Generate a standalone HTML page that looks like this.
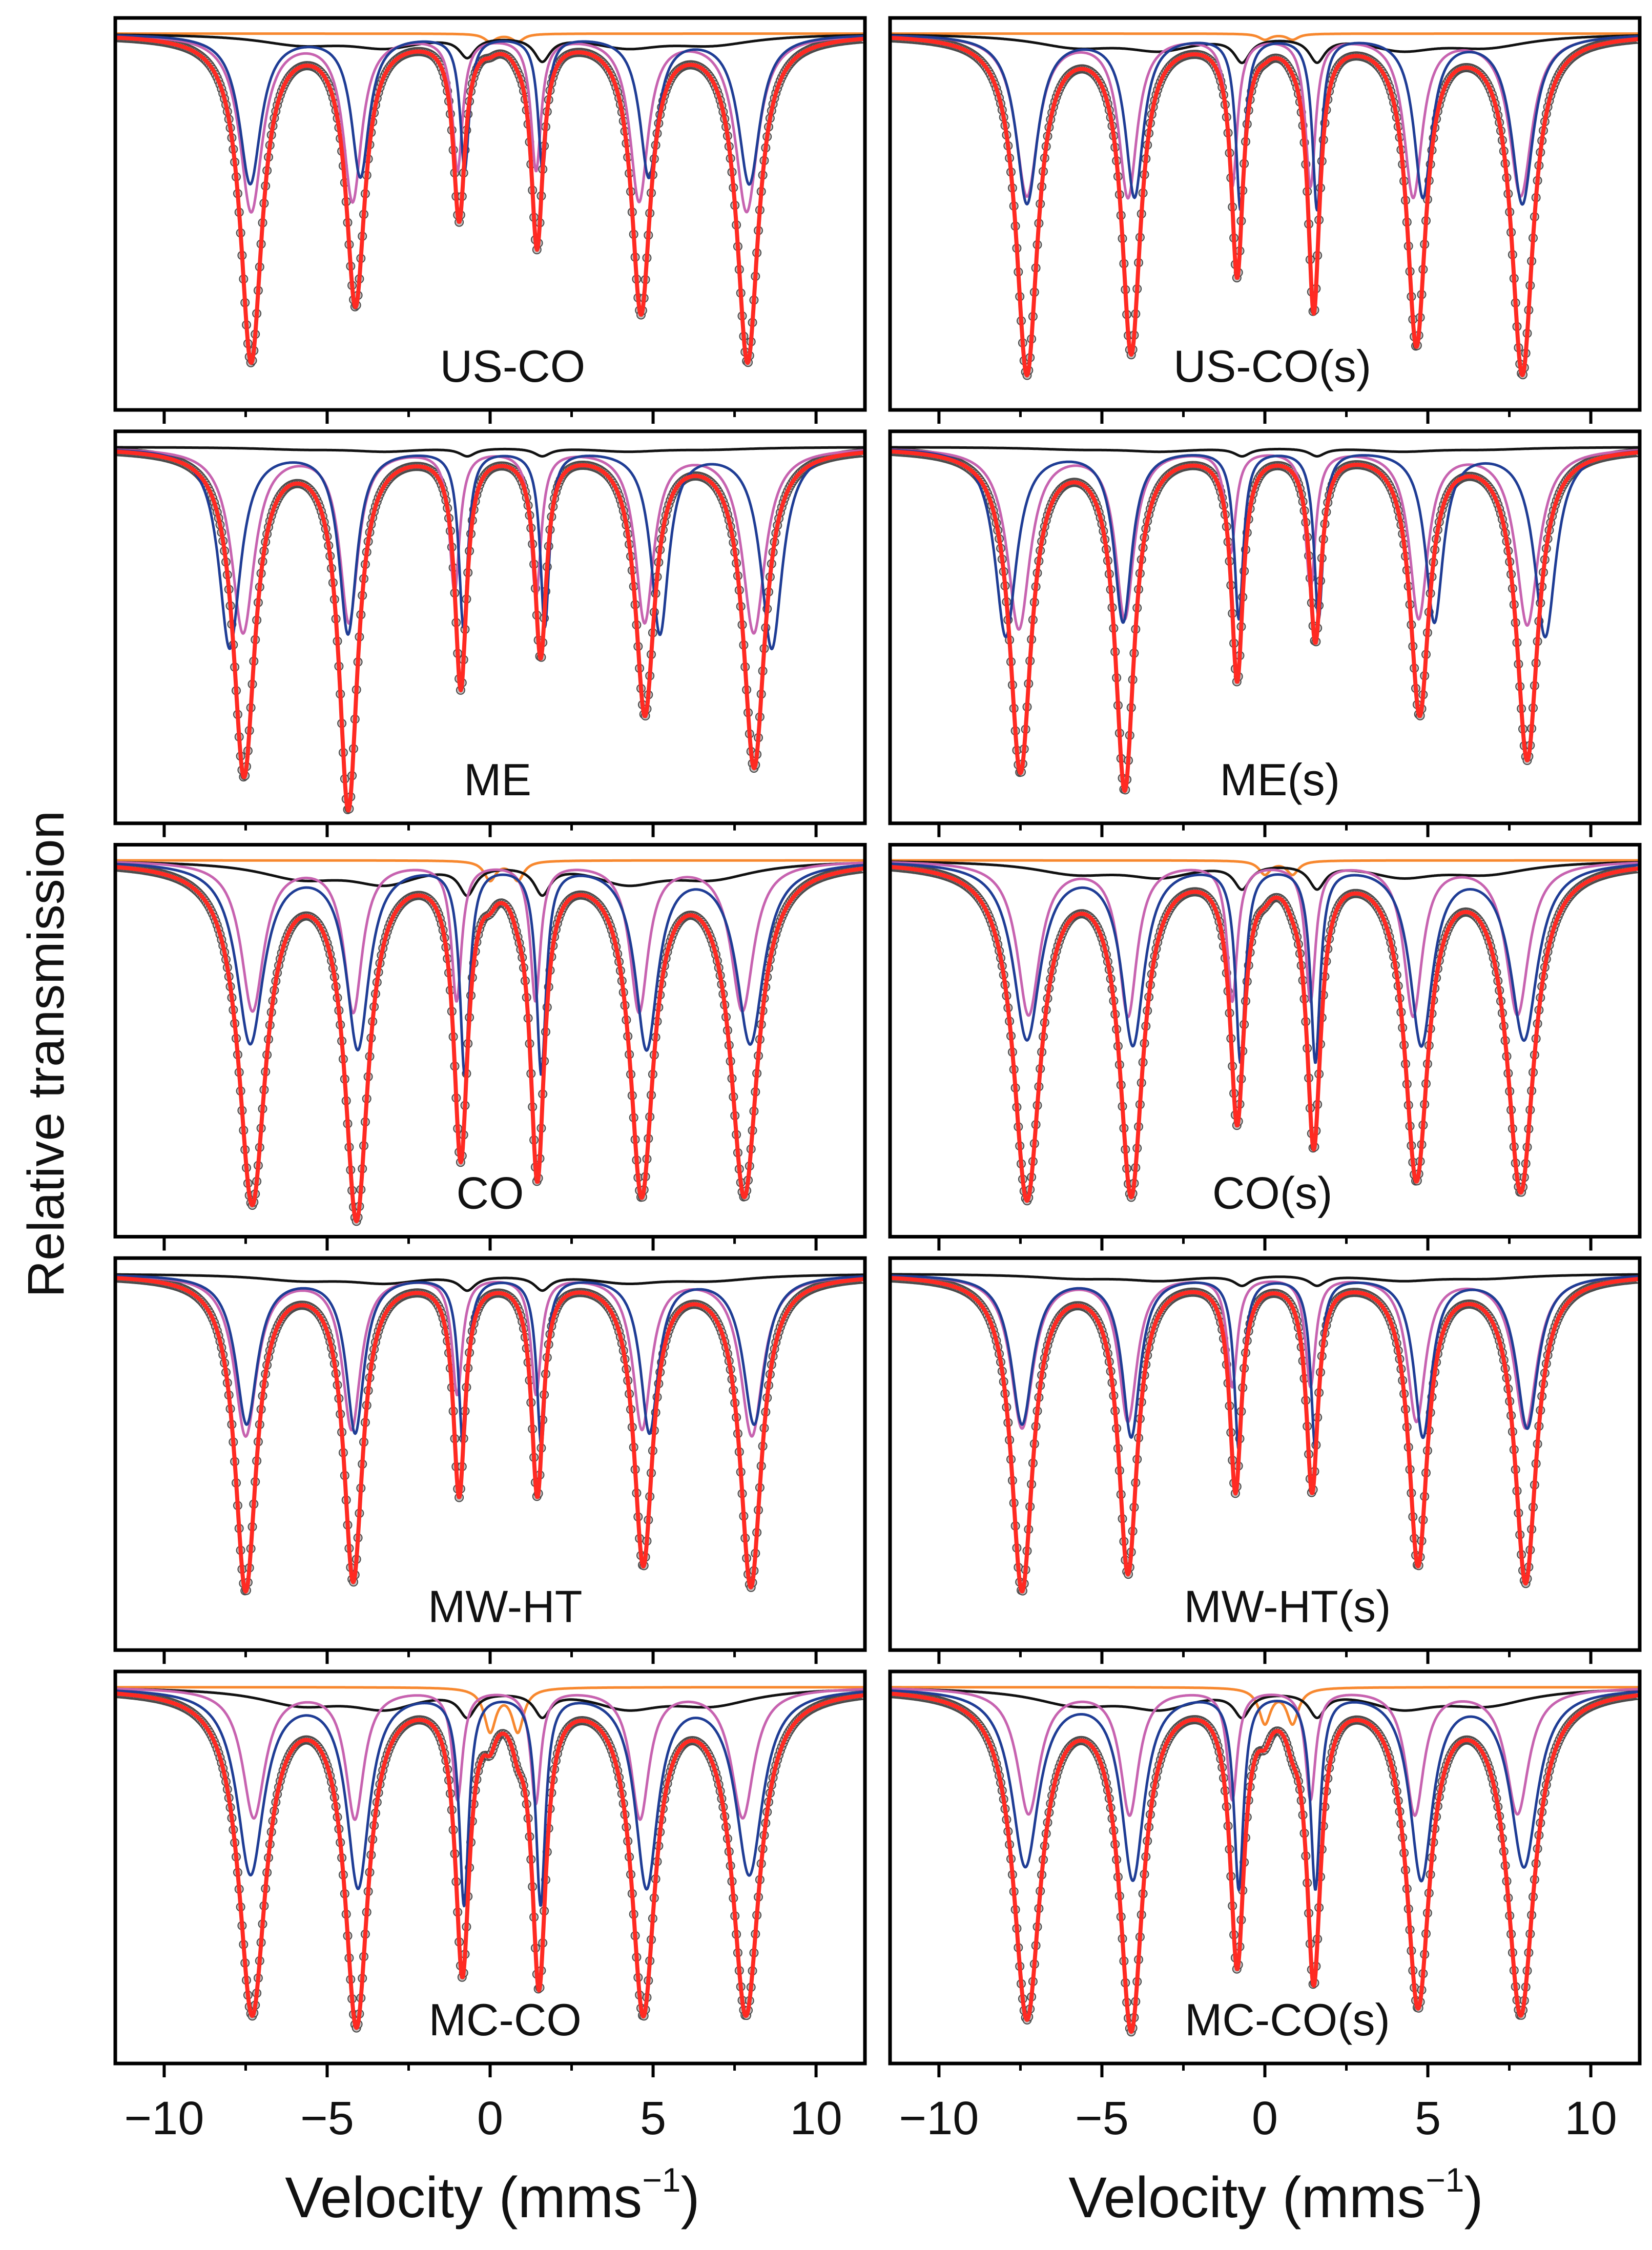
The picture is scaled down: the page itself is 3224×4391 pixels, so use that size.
<!DOCTYPE html>
<html><head><meta charset="utf-8"><style>
html,body{margin:0;padding:0;background:#fff}
svg{display:block}
text{font-family:"Liberation Sans",Arial,sans-serif;fill:#111}
</style></head><body>
<svg id="fig" width="3224" height="4391" viewBox="0 0 3224 4391" xmlns="http://www.w3.org/2000/svg">
<text x="0" y="0" font-size="100" text-anchor="middle" transform="translate(124,2057) rotate(-90)">Relative transmission</text>
<text x="961" y="4327" font-size="112" text-anchor="middle">Velocity (mms<tspan font-size="66" dy="-50">−1</tspan><tspan dy="50">)</tspan></text>
<text x="2490" y="4327" font-size="112" text-anchor="middle">Velocity (mms<tspan font-size="66" dy="-50">−1</tspan><tspan dy="50">)</tspan></text>
</svg>
<script>
// ---- data ----
const panelNames = ["US-CO","US-CO(s)","ME","ME(s)","CO","CO(s)","MW-HT","MW-HT(s)","MC-CO","MC-CO(s)"];
const labelPos = [0.53,0.51,0.51,0.52,0.50,0.51,0.52,0.53,0.52,0.53];
const tickValues = [-10,-5,0,5,10];
const tickLabels = ["−10","−5","0","5","10"];
const minorTicks = [-7.5,-2.5,2.5,7.5];

const redPos = [
 [-7.33,-4.13,-0.95,1.44,4.63,7.9],[-7.3,-4.1,-0.85,1.5,4.65,7.9],
 [-7.55,-4.35,-0.9,1.55,4.75,8.1],[-7.5,-4.3,-0.85,1.55,4.75,8.05],
 [-7.3,-4.1,-0.9,1.45,4.65,7.8],[-7.3,-4.1,-0.85,1.5,4.65,7.85],
 [-7.5,-4.2,-0.95,1.45,4.7,8.0],[-7.45,-4.2,-0.9,1.45,4.7,8.0],
 [-7.3,-4.1,-0.85,1.5,4.7,7.85],[-7.3,-4.1,-0.85,1.5,4.7,7.85]];
const redDepth = [
 [0.83,0.68,0.46,0.53,0.70,0.83],[0.86,0.80,0.60,0.69,0.78,0.86],
 [0.83,0.91,0.60,0.52,0.67,0.81],[0.82,0.86,0.58,0.48,0.67,0.79],
 [0.86,0.89,0.73,0.78,0.83,0.84],[0.85,0.83,0.64,0.70,0.79,0.83],
 [0.80,0.77,0.55,0.55,0.73,0.79],[0.80,0.75,0.54,0.54,0.73,0.78],
 [0.82,0.84,0.70,0.73,0.81,0.82],[0.83,0.85,0.68,0.72,0.79,0.82]];
const redWide = [0,0,0,0,1,1,0,0,1,1];

const magPos = [
 [-7.33,-4.22,-1.0,1.41,4.57,7.87],[-7.3,-4.2,-1.0,1.4,4.55,7.85],
 [-7.58,-4.33,-1.09,1.41,4.74,8.09],[-7.55,-4.3,-1.05,1.4,4.72,8.05],
 [-7.29,-4.2,-1.03,1.39,4.57,7.74],[-7.25,-4.2,-1.0,1.4,4.55,7.75],
 [-7.5,-4.25,-1.01,1.41,4.66,8.03],[-7.45,-4.2,-1.0,1.4,4.65,8.0],
 [-7.25,-4.15,-1.0,1.4,4.6,7.75],[-7.25,-4.15,-1.0,1.4,4.6,7.75]];
const magDepth = [
 [0.45,0.42,0.34,0.34,0.42,0.45],[0.41,0.41,0.38,0.38,0.41,0.41],
 [0.47,0.44,0.36,0.37,0.44,0.47],[0.46,0.43,0.26,0.35,0.43,0.45],
 [0.38,0.38,0.35,0.35,0.38,0.38],[0.39,0.39,0.35,0.35,0.39,0.39],
 [0.41,0.39,0.30,0.30,0.39,0.41],[0.39,0.37,0.28,0.28,0.37,0.39],
 [0.33,0.33,0.28,0.29,0.33,0.33],[0.32,0.32,0.28,0.28,0.32,0.32]];

const bluePos = [
 [-7.36,-3.98,-0.78,1.61,4.87,7.95],[-7.3,-4.0,-0.75,1.6,4.85,7.9],
 [-7.99,-4.36,-0.82,1.68,5.21,8.64],[-7.95,-4.35,-0.8,1.65,5.2,8.6],
 [-7.36,-4.06,-0.78,1.57,4.8,7.98],[-7.3,-4.05,-0.75,1.55,4.8,7.95],
 [-7.47,-4.14,-0.83,1.57,4.89,8.1],[-7.45,-4.1,-0.8,1.55,4.85,8.05],
 [-7.35,-4.05,-0.8,1.55,4.8,7.95],[-7.35,-4.05,-0.8,1.55,4.8,7.95]];
const blueDepth = [
 [0.38,0.36,0.34,0.34,0.36,0.38],[0.43,0.41,0.44,0.44,0.41,0.43],
 [0.51,0.47,0.45,0.45,0.47,0.51],[0.48,0.44,0.43,0.43,0.44,0.48],
 [0.46,0.47,0.53,0.53,0.47,0.46],[0.45,0.46,0.50,0.50,0.46,0.45],
 [0.38,0.40,0.43,0.43,0.40,0.38],[0.38,0.41,0.44,0.44,0.41,0.39],
 [0.47,0.50,0.54,0.54,0.50,0.47],[0.45,0.48,0.50,0.50,0.48,0.45]];

const blackPos = [-5.8,-3.2,-0.7,1.6,4.2,6.8];
const blackDepth = [
 [0.025,0.03,0.05,0.06,0.03,0.025],[0.03,0.035,0.06,0.06,0.035,0.03],
 [0.005,0.01,0.02,0.02,0.01,0.005],[0.005,0.01,0.02,0.02,0.01,0.005],
 [0.04,0.05,0.07,0.07,0.05,0.04],[0.03,0.035,0.06,0.06,0.035,0.03],
 [0.015,0.02,0.035,0.035,0.02,0.015],[0.01,0.015,0.025,0.025,0.015,0.01],
 [0.04,0.045,0.06,0.06,0.045,0.04],[0.04,0.045,0.06,0.06,0.045,0.04]];

const orangePos = [0.0,0.85];
const orangeDepth = [[0.02,0.02],[0.015,0.015],[0,0],[0,0],[0.05,0.05],[0.035,0.035],[0,0],[0,0],[0.11,0.11],[0.09,0.09]];

// ---- layout / scales ----
const NS = "http://www.w3.org/2000/svg";
const svg = document.getElementById("fig");
const colX = [225, 1737], PW = 1463, PH = 765, ROW0 = 35, ROWSTEP = 806.75;
const XMIN = -11.5, XMAX = 11.5, BASE = 0.04;
const hwNarrow = [0.4,0.35,0.22,0.22,0.35,0.4], hwBroad = [0.5,0.43,0.26,0.26,0.43,0.5];
const hwMag = [0.42,0.34,0.19,0.19,0.34,0.42], hwBlue = [0.4,0.33,0.17,0.17,0.33,0.4], hwBlueB = [0.5,0.42,0.18,0.18,0.42,0.5];
const hwBlack = [1.6,1.3,0.3,0.3,1.3,1.6], hwOrange = [0.22,0.22];

function el(tag, attrs){const e=document.createElementNS(NS,tag);for(const k in attrs)e.setAttribute(k,attrs[k]);return e;}
function absorb(v,pos,dep,hw){let s=0;for(let i=0;i<pos.length;i++){const d=v-pos[i];s+=dep[i]*hw[i]*hw[i]/(d*d+hw[i]*hw[i]);}return s;}

for(let p=0;p<10;p++){
  const col=p%2,row=Math.floor(p/2);
  const x0=colX[col], y0=ROW0+row*ROWSTEP;
  const xs=v=>x0+(v-XMIN)/(XMAX-XMIN)*PW;
  const ys=a=>y0+(BASE+a)*PH;
  const g=el("g",{});
  
  
  svg.appendChild(g);
  const cid="clip"+p;
  const cp=el("clipPath",{id:cid});cp.appendChild(el("rect",{x:x0,y:y0,width:PW,height:PH}));g.appendChild(cp);
  const rhw=redWide[p]?hwBroad:hwNarrow;
  const redFn=v=>absorb(v,redPos[p],redDepth[p],rhw)+absorb(v,orangePos,orangeDepth[p],hwOrange)*0.6;
  const dg=el("g",{"clip-path":"url(#"+cid+")"});
  
  
  g.appendChild(dg);
  for(let v=XMIN+0.02;v<XMAX;v+=0.045){
    const c=el("circle",{cx:xs(v).toFixed(1),cy:ys(redFn(v)).toFixed(1),r:8,fill:"#c0c1c1",stroke:"#4a4a4a","stroke-width":2});
    dg.appendChild(c);
  }
  function line(fn,color,w,name){
    let d="";for(let v=XMIN;v<=XMAX+1e-9;v+=0.02){d+=(d?"L":"M")+xs(v).toFixed(1)+","+ys(fn(v)).toFixed(1);}
    const pth=el("path",{d:d,fill:"none",stroke:color,"stroke-width":w,"stroke-linejoin":"round","clip-path":"url(#"+cid+")"});
    
    
    g.appendChild(pth);
  }
  if(orangeDepth[p][0]>0) line(v=>absorb(v,orangePos,orangeDepth[p],hwOrange),"#f7882f",5,"doublet-curve");
  line(v=>absorb(v,blackPos,blackDepth[p],hwBlack),"#111",5,"broad-sextet-curve");
  line(v=>absorb(v,magPos[p],magDepth[p],hwMag),"#c763b0",5,"sextet-a-curve");
  line(v=>absorb(v,bluePos[p],blueDepth[p],redWide[p]?hwBlueB:hwBlue),"#1f3d95",5,"sextet-b-curve");
  line(redFn,"#ff2a22",8,"total-fit-curve");
  const fr=el("rect",{x:x0,y:y0,width:PW,height:PH,fill:"none",stroke:"#000","stroke-width":7});
  
  
  g.appendChild(fr);
  const yb=y0+PH;
  tickValues.forEach(t=>{const tk=el("line",{x1:xs(t),x2:xs(t),y1:yb,y2:yb+27,stroke:"#000","stroke-width":6});
    
    
    g.appendChild(tk);});
  minorTicks.forEach(t=>{const tk=el("line",{x1:xs(t),x2:xs(t),y1:yb,y2:yb+14,stroke:"#000","stroke-width":5});
    
    
    g.appendChild(tk);});
  if(row===4){
    tickValues.forEach((t,i)=>{const tx=el("text",{x:xs(t),y:4165,"font-size":92,"text-anchor":"middle"});tx.textContent=tickLabels[i];
      
      
      g.appendChild(tx);});
  }
  const lb=el("text",{x:x0+labelPos[p]*PW,y:y0+710,"font-size":88,"text-anchor":"middle"});
  lb.textContent=panelNames[p];
  
  
  g.appendChild(lb);
}
</script>
</body></html>
